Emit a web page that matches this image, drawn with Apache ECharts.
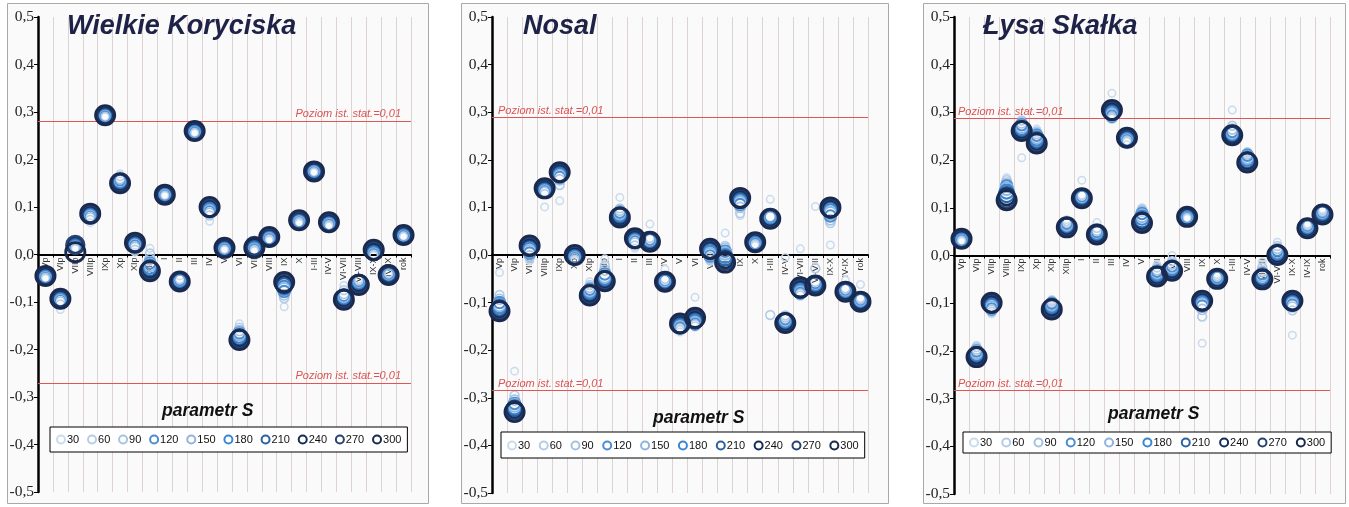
<!DOCTYPE html>
<html>
<head>
<meta charset="utf-8">
<script src="https://cdn.jsdelivr.net/npm/echarts@6/dist/echarts.min.js"></script>
<style>
  html, body { margin: 0; padding: 0; background: #ffffff; }
  #chart { width: 1349px; height: 507px; }
</style>
</head>
<body>
<div id="chart"></div>
<script>
// Months / seasons of the climatic year ("p" = previous year)
const categories = ['Vp','VIp','VIIp','VIIIp','IXp','Xp','XIp','XIIp','I','II','III','IV','V','VI','VII','VIII','IX','X','I-III','IV-V','VI-VII','VI-VIII','IX-X','IV-IX','rok'];

// Values of parameter S (one series per value)
const paramS = ['30','60','90','120','150','180','210','240','270','300'];

// Station names
const stations = ['Wielkie Koryciska', 'Nosal', 'Łysa Skałka'];

// Value axis range
const yMin = -0.5, yMax = 0.5, yStep = 0.1;

// Significance thresholds (p = 0.01): [upper, lower]
const sigKoryciska = [0.280, -0.272];
const sigNosal = [0.289, -0.285];
const sigLysa = [0.288, -0.282];
const sigLabel = 'Poziom ist. stat.=0,01';

// Correlation coefficients, one row per category, columns = S 30 … 300
const koryciskaRows = [
  [-0.050,-0.050,-0.049,-0.048,-0.048,-0.047,-0.046,-0.046,-0.045,-0.045],
  [-0.116,-0.105,-0.100,-0.097,-0.096,-0.095,-0.094,-0.093,-0.093,-0.093],
  [0.012,0.013,0.014,0.015,0.016,0.017,0.018,0.020,0.020,0.005],
  [0.067,0.073,0.077,0.080,0.081,0.082,0.083,0.084,0.085,0.086],
  [0.290,0.290,0.291,0.291,0.292,0.292,0.292,0.293,0.293,0.293],
  [0.170,0.165,0.160,0.157,0.155,0.154,0.153,0.152,0.151,0.150],
  [0.005,0.010,0.015,0.018,0.020,0.021,0.022,0.023,0.024,0.025],
  [0.013,0.002,-0.010,-0.018,-0.022,-0.026,-0.029,-0.031,-0.033,-0.035],
  [0.124,0.124,0.125,0.125,0.125,0.126,0.126,0.126,0.126,0.126],
  [-0.045,-0.052,-0.053,-0.054,-0.055,-0.055,-0.056,-0.056,-0.057,-0.057],
  [0.256,0.256,0.257,0.257,0.258,0.258,0.259,0.259,0.260,0.260],
  [0.070,0.082,0.087,0.090,0.092,0.094,0.096,0.097,0.098,0.100],
  [0.010,0.010,0.011,0.011,0.012,0.012,0.013,0.013,0.014,0.014],
  [-0.146,-0.154,-0.160,-0.165,-0.168,-0.171,-0.174,-0.176,-0.178,-0.180],
  [0.008,0.009,0.010,0.011,0.012,0.013,0.014,0.016,0.018,0.014],
  [0.030,0.031,0.032,0.033,0.034,0.035,0.035,0.036,0.036,0.037],
  [-0.110,-0.092,-0.085,-0.078,-0.073,-0.070,-0.066,-0.063,-0.060,-0.058],
  [0.066,0.067,0.068,0.069,0.069,0.070,0.070,0.071,0.071,0.072],
  [0.173,0.173,0.174,0.174,0.174,0.175,0.175,0.175,0.175,0.175],
  [0.060,0.061,0.062,0.063,0.064,0.065,0.066,0.066,0.067,0.068],
  [-0.065,-0.075,-0.082,-0.086,-0.088,-0.090,-0.091,-0.092,-0.093,-0.095],
  [-0.052,-0.054,-0.055,-0.056,-0.057,-0.058,-0.059,-0.060,-0.062,-0.064],
  [-0.002,-0.001,0.000,0.001,0.002,0.003,0.004,0.006,0.008,0.010],
  [-0.040,-0.040,-0.041,-0.041,-0.042,-0.042,-0.042,-0.043,-0.043,-0.043],
  [0.038,0.038,0.039,0.039,0.040,0.040,0.040,0.041,0.041,0.041]
];

const nosalRows = [
  [-0.037,-0.084,-0.093,-0.100,-0.105,-0.108,-0.111,-0.114,-0.116,-0.118],
  [-0.244,-0.295,-0.305,-0.312,-0.316,-0.320,-0.322,-0.325,-0.327,-0.330],
  [-0.012,-0.006,-0.002,0.004,0.008,0.011,0.014,0.016,0.018,0.020],
  [0.101,0.128,0.132,0.134,0.135,0.136,0.137,0.138,0.139,0.140],
  [0.114,0.147,0.158,0.163,0.166,0.168,0.170,0.172,0.173,0.174],
  [-0.012,-0.010,-0.008,-0.006,-0.005,-0.004,-0.003,-0.002,-0.001,0.000],
  [-0.056,-0.063,-0.068,-0.072,-0.075,-0.077,-0.079,-0.081,-0.083,-0.085],
  [-0.008,-0.022,-0.032,-0.040,-0.045,-0.048,-0.050,-0.052,-0.053,-0.055],
  [0.121,0.098,0.094,0.090,0.087,0.085,0.083,0.081,0.080,0.079],
  [0.014,0.020,0.025,0.028,0.030,0.031,0.032,0.033,0.034,0.035],
  [0.065,0.036,0.033,0.032,0.031,0.030,0.030,0.029,0.029,0.028],
  [-0.030,-0.050,-0.053,-0.054,-0.054,-0.055,-0.055,-0.056,-0.056,-0.056],
  [-0.162,-0.158,-0.155,-0.153,-0.151,-0.149,-0.148,-0.146,-0.145,-0.144],
  [-0.089,-0.150,-0.147,-0.145,-0.142,-0.140,-0.138,-0.136,-0.134,-0.132],
  [-0.014,-0.010,-0.006,-0.002,0.002,0.005,0.008,0.010,0.012,0.013],
  [0.046,0.019,0.014,0.008,0.003,-0.002,-0.006,-0.010,-0.013,-0.016],
  [0.083,0.088,0.100,0.106,0.110,0.113,0.115,0.117,0.119,0.120],
  [0.020,0.022,0.023,0.024,0.025,0.025,0.026,0.026,0.027,0.027],
  [0.117,-0.126,0.081,0.080,0.079,0.079,0.078,0.078,0.077,0.076],
  [-0.005,-0.127,-0.130,-0.134,-0.136,-0.138,-0.140,-0.141,-0.142,-0.143],
  [0.013,-0.085,-0.082,-0.080,-0.078,-0.076,-0.074,-0.072,-0.070,-0.068],
  [0.102,-0.028,-0.055,-0.058,-0.060,-0.061,-0.062,-0.063,-0.063,-0.064],
  [0.021,0.067,0.074,0.082,0.088,0.092,0.095,0.097,0.099,0.100],
  [-0.053,-0.070,-0.072,-0.073,-0.074,-0.075,-0.076,-0.076,-0.077,-0.077],
  [-0.062,-0.090,-0.092,-0.094,-0.095,-0.096,-0.097,-0.097,-0.098,-0.098]
];

const lysaRows = [
  [0.030,0.031,0.032,0.032,0.033,0.033,0.034,0.034,0.035,0.035],
  [-0.188,-0.192,-0.196,-0.200,-0.203,-0.206,-0.208,-0.210,-0.212,-0.213],
  [-0.122,-0.118,-0.115,-0.112,-0.109,-0.106,-0.104,-0.102,-0.100,-0.099],
  [0.163,0.158,0.152,0.146,0.140,0.134,0.128,0.123,0.119,0.116],
  [0.205,0.283,0.278,0.274,0.270,0.267,0.265,0.263,0.262,0.261],
  [0.265,0.260,0.256,0.252,0.248,0.245,0.242,0.239,0.237,0.235],
  [-0.092,-0.095,-0.098,-0.100,-0.103,-0.105,-0.107,-0.109,-0.111,-0.113],
  [0.075,0.072,0.069,0.067,0.065,0.063,0.062,0.061,0.060,0.059],
  [0.158,0.127,0.125,0.124,0.123,0.122,0.122,0.121,0.121,0.120],
  [0.069,0.058,0.053,0.050,0.048,0.047,0.046,0.045,0.045,0.044],
  [0.340,0.287,0.289,0.292,0.295,0.298,0.300,0.302,0.304,0.305],
  [0.232,0.238,0.240,0.242,0.243,0.244,0.245,0.246,0.246,0.247],
  [0.100,0.097,0.093,0.088,0.083,0.079,0.075,0.072,0.070,0.068],
  [-0.020,-0.025,-0.030,-0.033,-0.036,-0.038,-0.040,-0.042,-0.043,-0.044],
  [0.000,-0.012,-0.018,-0.022,-0.025,-0.027,-0.029,-0.030,-0.031,-0.032],
  [0.078,0.079,0.079,0.080,0.080,0.080,0.081,0.081,0.081,0.081],
  [-0.184,-0.128,-0.113,-0.106,-0.102,-0.100,-0.098,-0.097,-0.096,-0.095],
  [-0.040,-0.043,-0.045,-0.046,-0.047,-0.047,-0.048,-0.048,-0.049,-0.049],
  [0.305,0.272,0.265,0.260,0.257,0.255,0.254,0.253,0.252,0.252],
  [0.218,0.216,0.213,0.210,0.206,0.203,0.200,0.198,0.196,0.195],
  [-0.013,-0.025,-0.033,-0.038,-0.042,-0.045,-0.047,-0.048,-0.049,-0.050],
  [0.028,0.020,0.015,0.011,0.008,0.006,0.004,0.003,0.002,0.001],
  [-0.167,-0.115,-0.108,-0.104,-0.101,-0.099,-0.098,-0.097,-0.096,-0.095],
  [0.066,0.064,0.063,0.062,0.061,0.060,0.059,0.058,0.058,0.057],
  [0.097,0.095,0.093,0.091,0.090,0.089,0.088,0.087,0.087,0.086]
];

// ---- styling ----
const ringColors = ['#c9dbee','#b3cce8','#a6c2e2','#4d8dcf','#8fb4de','#3b86d2','#2a62a2','#142d5a','#284272','#1a294e'];
const ringSizes  = [7.5, 8.8, 10.1, 11.4, 12.7, 14, 15.3, 16.6, 17.9, 19.2];
const ringWidths = [1.5, 1.6, 1.6, 2.1, 1.9, 2.1, 2.1, 2.6, 2.4, 2.8];
const FONT = 'Liberation Sans';

const panels = [
  { rows: koryciskaRows, sig: sigKoryciska, frame: [7, 3, 421, 500], grid: [38, 17, 373, 475],
    titleAt: [67, 13], paramAt: [162, 402], legendAt: [50, 427], legendGap: 7.8, legendPad: [7, 6, 7, 6],
    sigPos: 'insideEndTop', sigDist: [10, 2] },
  { rows: nosalRows, sig: sigNosal, frame: [461, 3, 427, 500], grid: [492, 17, 376, 476],
    titleAt: [523, 13], paramAt: [653, 409], legendAt: [501, 432], legendGap: 8.5, legendPad: [8, 6, 7, 6],
    sigPos: 'insideStartTop', sigDist: [6, 1] },
  { rows: lysaRows, sig: sigLysa, frame: [923, 3, 422, 500], grid: [954, 17, 376, 477],
    titleAt: [983, 13], paramAt: [1108, 405], legendAt: [963, 432], legendGap: 9, legendPad: [5, 6, 5, 6],
    sigPos: 'insideStartTop', sigDist: [4, 1] }
];

const fmtTick = v => (Math.abs(v) < 1e-9 ? '0,0' : v.toFixed(1).replace('.', ','));

const option = {
  animation: false,
  backgroundColor: '#ffffff',
  graphic: {
    elements: panels.map(p => ({
      type: 'rect', silent: true, z: -100,
      shape: { x: p.frame[0] + 0.5, y: p.frame[1] + 0.5, width: p.frame[2], height: p.frame[3] },
      style: { fill: '#fafafa', stroke: '#a9a9a9', lineWidth: 1 }
    }))
  },
  title: [],
  legend: [],
  grid: [],
  xAxis: [],
  yAxis: [],
  series: []
};

panels.forEach((p, pi) => {
  // the category axis sits on the zero line of the value axis
  const zeroOffset = -p.grid[3] * (yMax - 0) / (yMax - yMin);
  option.title.push({
    text: stations[pi], left: p.titleAt[0], top: p.titleAt[1], padding: 0,
    textStyle: { fontFamily: FONT, fontSize: 27, fontWeight: 'bold', fontStyle: 'italic', color: '#1d2246' }
  });
  option.title.push({
    text: 'parametr S', left: p.paramAt[0], top: p.paramAt[1], padding: 0,
    textStyle: { fontFamily: FONT, fontSize: 17.5, fontWeight: 'bold', fontStyle: 'italic', color: '#111111' }
  });
  option.legend.push({
    data: paramS, left: p.legendAt[0], top: p.legendAt[1], orient: 'horizontal',
    itemWidth: 8, itemHeight: 8, itemGap: p.legendGap, padding: p.legendPad,
    borderColor: '#000000', borderWidth: 1, backgroundColor: '#ffffff',
    selectedMode: false,
    textStyle: { fontFamily: FONT, fontSize: 11, color: '#111111', padding: [0, 0, 0, -3] }
  });
  option.grid.push({
    left: p.grid[0], top: p.grid[1], width: p.grid[2], height: p.grid[3],
    containLabel: false, outerBoundsMode: 'none'
  });
  option.xAxis.push({
    type: 'category', gridIndex: pi, data: categories, boundaryGap: true,
    position: 'bottom', offset: zeroOffset,
    axisLine: { show: true, onZero: false, lineStyle: { color: '#000000', width: 2 } },
    axisTick: { show: true, interval: 0, length: 3, lineStyle: { color: '#000000', width: 1 } },
    axisLabel: { interval: 0, rotate: 90, margin: 3, fontFamily: FONT, fontSize: 9, color: '#333333' },
    splitLine: { show: true, interval: 0, lineStyle: { color: '#ddd3d3', width: 1 } }
  });
  option.yAxis.push({
    type: 'value', gridIndex: pi, min: yMin, max: yMax, interval: yStep,
    axisLine: { show: true, lineStyle: { color: '#000000', width: 2.5 } },
    axisTick: { show: true, length: 4, lineStyle: { color: '#000000', width: 1 } },
    axisLabel: { margin: 4, formatter: fmtTick, fontFamily: 'Liberation Serif', fontSize: 15.5, color: '#222222' },
    splitLine: { show: false }
  });
  paramS.forEach((name, si) => {
    const s = {
      type: 'scatter', name: name, xAxisIndex: pi, yAxisIndex: pi,
      data: p.rows.map(r => r[si]),
      symbol: 'circle', symbolSize: ringSizes[si],
      itemStyle: { color: 'rgba(255,255,255,0)', borderColor: ringColors[si], borderWidth: ringWidths[si], opacity: 1 },
      emphasis: { disabled: true },
      z: 3 + si
    };
    if (si === 0) {
      s.markLine = {
        silent: true, symbol: 'none', precision: 3,
        lineStyle: { color: '#e05555', width: 1, type: 'solid' },
        label: { show: true, formatter: sigLabel, position: p.sigPos, distance: p.sigDist,
                 fontFamily: FONT, fontStyle: 'italic', fontSize: 11, color: '#dc5252' },
        data: [{ yAxis: p.sig[0] }, { yAxis: p.sig[1] }]
      };
    }
    option.series.push(s);
  });
});

const chart = echarts.init(document.getElementById('chart'), null, { renderer: 'canvas' });
chart.setOption(option);
</script>
</body>
</html>
